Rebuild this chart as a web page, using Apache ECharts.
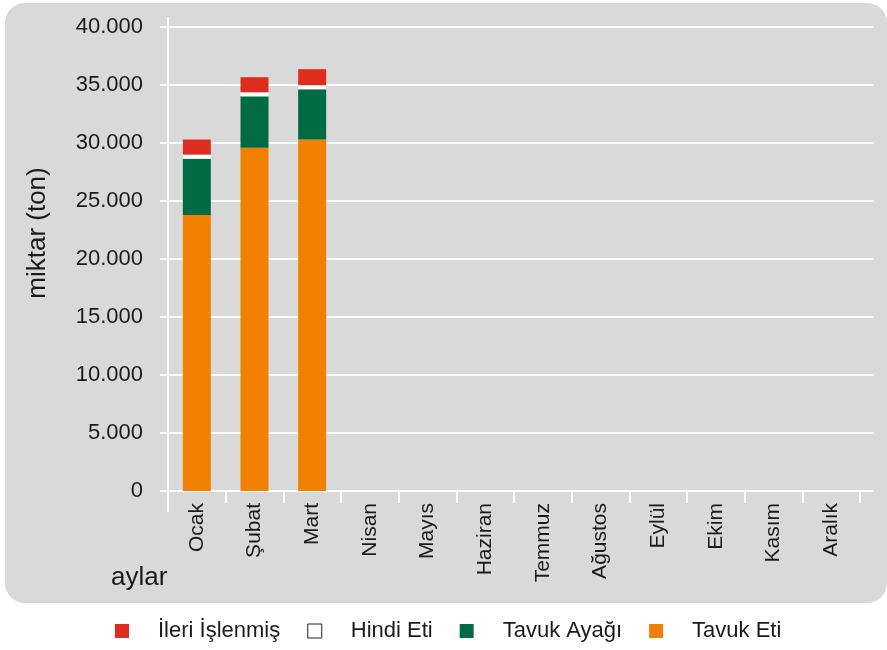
<!DOCTYPE html>
<html><head><meta charset="utf-8">
<script src="https://cdn.jsdelivr.net/npm/echarts@6/dist/echarts.min.js"></script>
<style>html,body{margin:0;padding:0;background:#fff}#c{width:887px;height:650px}</style>
</head><body><div id="c"></div>
<script>
var months = ['Ocak','Şubat','Mart','Nisan','Mayıs','Haziran','Temmuz','Ağustos','Eylül','Ekim','Kasım','Aralık'];
var tavukEti   = [23800, 29600, 30300, null, null, null, null, null, null, null, null, null];
var tavukAyagi = [4850, 4420, 4330, null, null, null, null, null, null, null, null, null];
var hindiEti   = [350, 350, 350, null, null, null, null, null, null, null, null, null];
var ileri      = [1300, 1300, 1385, null, null, null, null, null, null, null, null, null];
var yTicks = [0, 5000, 10000, 15000, 20000, 25000, 30000, 35000, 40000];

var FONT = '"Liberation Sans", Arial, sans-serif';
var TXT = '#1a1a1a';
function fmt(v){ return v === 0 ? '0' : String(v).replace(/\B(?=(\d{3})+(?!\d))/g, '.'); }

var chart = echarts.init(document.getElementById('c'), null, {renderer:'canvas'});
var option = {
  animation: false,
  textStyle: {fontFamily: FONT},
  graphic: [{type:'rect', z:-10, silent:true, shape:{x:5, y:3, width:882, height:600, r:20}, style:{fill:'#d9d9d9'}}],
  title: {text:'aylar', left:106, top:560, textStyle:{fontFamily:FONT, fontSize:26, fontWeight:'normal', color:TXT}},
  grid: {left:168, right:27, top:27, height:464, containLabel:false},
  legend: {
    top: 615, left: 110, itemWidth:14, itemHeight:14, itemGap:27,
    textStyle:{fontFamily:FONT, fontSize:22, color:TXT, padding:[0,0,0,24]},
    data: [
      {name:'İleri İşlenmiş', icon:'rect'},
      {name:'Hindi Eti', icon:'rect', itemStyle:{color:'#ffffff', borderColor:'#222', borderWidth:1}},
      {name:'Tavuk Ayağı', icon:'rect'},
      {name:'Tavuk Eti', icon:'rect'}
    ]
  },
  xAxis: {
    type:'category', data: months, boundaryGap:true,
    axisLine:{show:true, lineStyle:{color:'#fff', width:2}},
    axisTick:{show:true, length:12, lineStyle:{color:'#fff', width:2}},
    axisLabel:{rotate:90, margin:12, fontFamily:FONT, fontSize:21, color:TXT, interval:0},
    splitLine:{show:false}
  },
  yAxis: {
    type:'value', min:0, max:40000, interval:5000,
    name:'miktar (ton)', nameLocation:'middle', nameGap:117,
    nameTextStyle:{fontFamily:FONT, fontSize:26, color:TXT, padding:[0,0,0,52]},
    axisLine:{show:true, lineStyle:{color:'#fff', width:2}},
    axisTick:{show:true, length:8, lineStyle:{color:'#fff', width:2}},
    axisLabel:{margin:25, fontFamily:FONT, fontSize:22, color:TXT, formatter: fmt},
    splitLine:{show:true, lineStyle:{color:'#fff', width:2}}
  },
  series: [
    {name:'Tavuk Eti', type:'bar', stack:'a', data:tavukEti, barWidth:28, itemStyle:{color:'#f08100'}},
    {name:'Tavuk Ayağı', type:'bar', stack:'a', data:tavukAyagi, barWidth:28, itemStyle:{color:'#006a44'}},
    {name:'Hindi Eti', type:'bar', stack:'a', data:hindiEti, barWidth:28, itemStyle:{color:'#ffffff'}},
    {name:'İleri İşlenmiş', type:'bar', stack:'a', data:ileri, barWidth:28, itemStyle:{color:'#de2d1f'}}
  ]
};
chart.setOption(option);

// axis decoration: extend y axis line and gridlines a little past the grid, as in the reference
var g = option.graphic.slice();
var gridRect = chart.getModel().getComponent('grid', 0).coordinateSystem.getRect();
var leftX = Math.round(gridRect.x), rightX = Math.round(gridRect.x + gridRect.width);
var topY = Math.round(gridRect.y), botY = Math.round(gridRect.y + gridRect.height);
g.push({type:'line', silent:true, z:5, shape:{x1:leftX, y1:topY-10, x2:leftX, y2:botY+21}, style:{stroke:'#fff', lineWidth:2}});
yTicks.forEach(function(v){
  var py = Math.round(chart.convertToPixel({yAxisIndex:0}, v));
  g.push({type:'line', silent:true, z:1, shape:{x1:rightX-2, y1:py, x2:rightX+14, y2:py}, style:{stroke:'#fff', lineWidth:2}});
});
chart.setOption({graphic: g});
</script></body></html>
